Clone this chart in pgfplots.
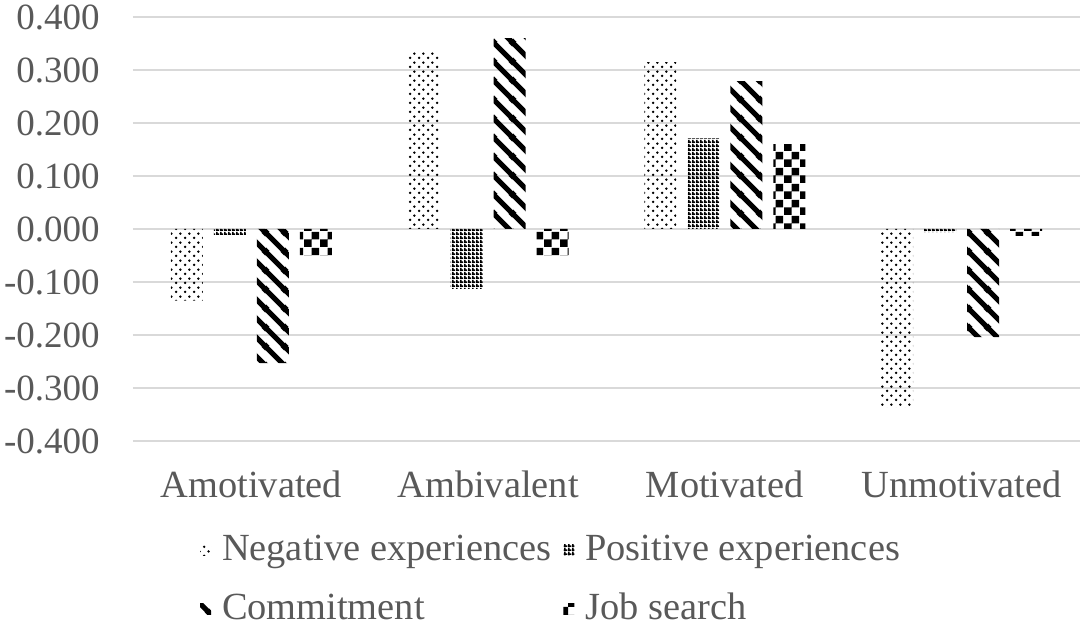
\documentclass[border=0pt]{standalone}
\usepackage{fontspec}
\setmainfont{Liberation Serif}
\usepackage{pgfplots}
\pgfplotsset{compat=1.18}
\usetikzlibrary{patterns}
\definecolor{txt}{HTML}{595959}
\definecolor{gridc}{HTML}{D9D9D9}
\newcommand{\fs}{\fontsize{18.5}{22}\selectfont}
\newcommand{\fl}{\fontsize{19.2}{23}\selectfont}

\pgfdeclarepatternformonly{negdots}{\pgfqpoint{0pt}{0pt}}{\pgfqpoint{4.6pt}{4.6pt}}{\pgfqpoint{4.6pt}{4.6pt}}{%
  \pgfpathcircle{\pgfqpoint{1.15pt}{1.15pt}}{0.7pt}%
  \pgfpathcircle{\pgfqpoint{3.45pt}{3.45pt}}{0.7pt}%
  \pgfusepath{fill}}
\pgfdeclarepatternformonly{posgrid}{\pgfqpoint{0pt}{0pt}}{\pgfqpoint{2pt}{2pt}}{\pgfqpoint{2pt}{2pt}}{%
  \pgfpathrectangle{\pgfqpoint{0pt}{0pt}}{\pgfqpoint{2pt}{1pt}}%
  \pgfpathrectangle{\pgfqpoint{0pt}{0pt}}{\pgfqpoint{1pt}{2pt}}%
  \pgfusepath{fill}}
\pgfdeclarepatternformonly{thickstripes}{\pgfqpoint{0pt}{0pt}}{\pgfqpoint{9.5pt}{9.5pt}}{\pgfqpoint{9.5pt}{9.5pt}}{%
  \pgfsetlinewidth{2.7pt}%
  \pgfpathmoveto{\pgfqpoint{-1pt}{10.5pt}}\pgfpathlineto{\pgfqpoint{10.5pt}{-1pt}}%
  \pgfpathmoveto{\pgfqpoint{-1pt}{1pt}}\pgfpathlineto{\pgfqpoint{1pt}{-1pt}}%
  \pgfpathmoveto{\pgfqpoint{8.5pt}{10.5pt}}\pgfpathlineto{\pgfqpoint{10.5pt}{8.5pt}}%
  \pgfusepath{stroke}}
\pgfdeclarepatternformonly{bigchecker}{\pgfqpoint{0pt}{0pt}}{\pgfqpoint{8pt}{8pt}}{\pgfqpoint{8pt}{8pt}}{%
  \pgfpathrectangle{\pgfqpoint{0pt}{0pt}}{\pgfqpoint{4pt}{4pt}}%
  \pgfpathrectangle{\pgfqpoint{4pt}{4pt}}{\pgfqpoint{4pt}{4pt}}%
  \pgfusepath{fill}}

\begin{document}
\begin{tikzpicture}
\begin{axis}[
  scale only axis, width=473.5pt, height=212pt,
  xmin=-0.5, xmax=3.5, ymin=-0.4, ymax=0.4,
  ybar=5.5pt, bar width=16pt,
  xtick={0,1,2,3},
  xticklabels={Amotivated,Ambivalent,Motivated,Unmotivated},
  ytick={-0.4,-0.3,-0.2,-0.1,0,0.1,0.2,0.3,0.4},
  yticklabels={-0.400,-0.300,-0.200,-0.100,0.000,0.100,0.200,0.300,0.400},
  axis line style={draw=none}, major tick length=0pt,
  ymajorgrids, major grid style={gridc, line width=0.9pt},
  xticklabel style={anchor=north, inner sep=0pt, yshift=-14.5pt, font=\fl, text=txt},
  yticklabel style={anchor=east, inner sep=0pt, xshift=-16.5pt, font=\fs, text=txt},
  legend columns=2, legend cell align=left,
  legend style={at={(0.07075,-0.21934)}, anchor=north west, draw=none, fill=none,
    inner sep=0pt, outer sep=0pt, row sep=13pt, font=\fl, text=txt,
    nodes={inner sep=0pt, text height=13pt, text depth=4pt},
    /tikz/every odd column/.append style={column sep=5.5pt},
    /tikz/every even column/.append style={column sep=6pt}},
  legend image code/.code={\fill[#1] (0pt,-2pt) rectangle (5.5pt,3.5pt);},
]
\addplot[draw=none, pattern=negdots, pattern color=black] coordinates {(0,-0.135) (1,0.336) (2,0.315) (3,-0.336)};
\addplot[draw=none, pattern=posgrid, pattern color=black] coordinates {(0,-0.011) (1,-0.113) (2,0.171) (3,-0.006)};
\addplot[draw=none, pattern=thickstripes, pattern color=black] coordinates {(0,-0.253) (1,0.360) (2,0.279) (3,-0.204)};
\addplot[draw=none, pattern=bigchecker, pattern color=black] coordinates {(0,-0.050) (1,-0.050) (2,0.160) (3,-0.013)};
\legend{Negative experiences,Positive experiences,Commitment,Job search}
\end{axis}
\pgfresetboundingbox
\path[use as bounding box] (-66.5pt,-95pt) rectangle (475.5pt,220.5pt);
\end{tikzpicture}
\end{document}
